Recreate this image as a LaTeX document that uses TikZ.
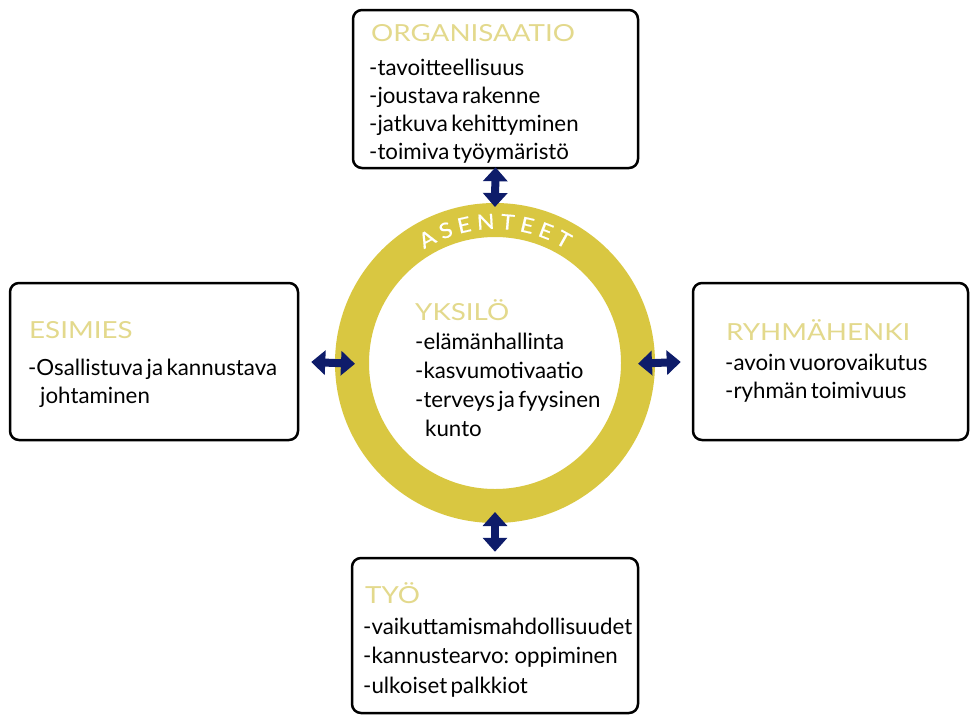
\documentclass[tikz,border=0pt]{standalone}
\usepackage{fontspec}
\setmainfont{Lato}[WordSpace=0.6]
\newfontfamily\titlefont{Lato}[FakeStretch=1.18]
\newfontfamily\ringfont{Lato}[FakeStretch=1.1,FakeBold=0.6]
\usetikzlibrary{arrows.meta,decorations.text}
\definecolor{ringyellow}{HTML}{D9C741}
\definecolor{titleyellow}{HTML}{E3D98C}
\definecolor{arrownavy}{HTML}{0E1C6A}
\tikzset{
  boxstyle/.style={draw=black, line width=2.5pt, rounded corners=9pt, fill=white, inner sep=0pt},
  ringstyle/.style={circle, draw=ringyellow, line width=34pt, minimum size=286pt, inner sep=0pt},
  titletext/.style={anchor=base west, inner sep=0pt, text=titleyellow, font=\titlefont\fontsize{23.5}{28}\selectfont},
  bodytext/.style={anchor=base west, inner sep=0pt, text=black, font=\fontsize{22.3}{26}\selectfont},
  dblarrow/.style={{Triangle[width=24pt,length=14pt]}-{Triangle[width=24pt,length=14pt]}, line width=8pt, draw=arrownavy}
}
\begin{document}
\begin{tikzpicture}[x=1pt,y=-1pt]
\useasboundingbox[fill=white] (0,0) rectangle (971,715);
% Drawing boxes and ring
\node[boxstyle, minimum width=285pt, minimum height=158pt] (org) at (495.5,89) {};
\node[boxstyle, minimum width=288pt, minimum height=157pt] (esim) at (154,361.5) {};
\node[boxstyle, minimum width=275pt, minimum height=157pt] (ryhma) at (830.5,361.5) {};
\node[boxstyle, minimum width=286pt, minimum height=155pt] (tyo) at (495,635.5) {};
\node[ringstyle] (ring) at (495,363) {};
% Curved label on the ring
\path[decorate, decoration={text along path, text={|\ringfont\fontsize{21}{24}\selectfont|ASENTEET},
  text align=fit to path, text color=white}]
  (ring.center) ++(238:134) arc[start angle=238, end angle=302, radius=134];
% Done with shapes; drawing texts
\node[titletext] (orgtitle) at (371,41) {ORGANISAATIO};
\foreach \line [count=\i] in {-tavoitteellisuus, -joustava rakenne, -jatkuva kehittyminen, -toimiva työymäristö}
  \node[bodytext] (org-\i) at (369,{75+28*(\i-1)}) {\line};
\node[titletext] (esimtitle) at (29,338) {ESIMIES};
\node[bodytext] (esim-1) at (28,375) {-Osallistuva ja kannustava};
\node[bodytext] (esim-2) at (40,403) {johtaminen};
\node[titletext] (ryhmatitle) at (726,340) {RYHMÄHENKI};
\node[bodytext] (ryhma-1) at (725,370) {-avoin vuorovaikutus};
\node[bodytext] (ryhma-2) at (725,398) {-ryhmän toimivuus};
\node[titletext] (tyotitle) at (365,603) {TYÖ};
\foreach \line [count=\i] in {-vaikuttamismahdollisuudet, -kannustearvo: oppiminen, -ulkoiset palkkiot}
  \node[bodytext] (tyo-\i) at (363,{634+29.5*(\i-1)}) {\line};
\node[titletext] (yksilotitle) at (415,320) {YKSILÖ};
\foreach \line [count=\i] in {-elämänhallinta, -kasvumotivaatio, -terveys ja fyysinen}
  \node[bodytext] (yks-\i) at (415,{349+29*(\i-1)}) {\line};
\node[bodytext] (yks-4) at (425,436) {kunto};
% Drawing arrows
\draw[dblarrow, shorten <=-2pt, shorten >=-4pt] (org.south) -- (ring.north);
\draw[dblarrow, shorten <=-11pt, shorten >=5pt] (ring.south) -- (tyo.north);
\draw[dblarrow, shorten <=12pt, shorten >=-20pt] (esim.east) -- (ring.west);
\draw[dblarrow, shorten <=-17pt, shorten >=11pt] (ring.east) -- (ryhma.west);
\end{tikzpicture}
\end{document}
